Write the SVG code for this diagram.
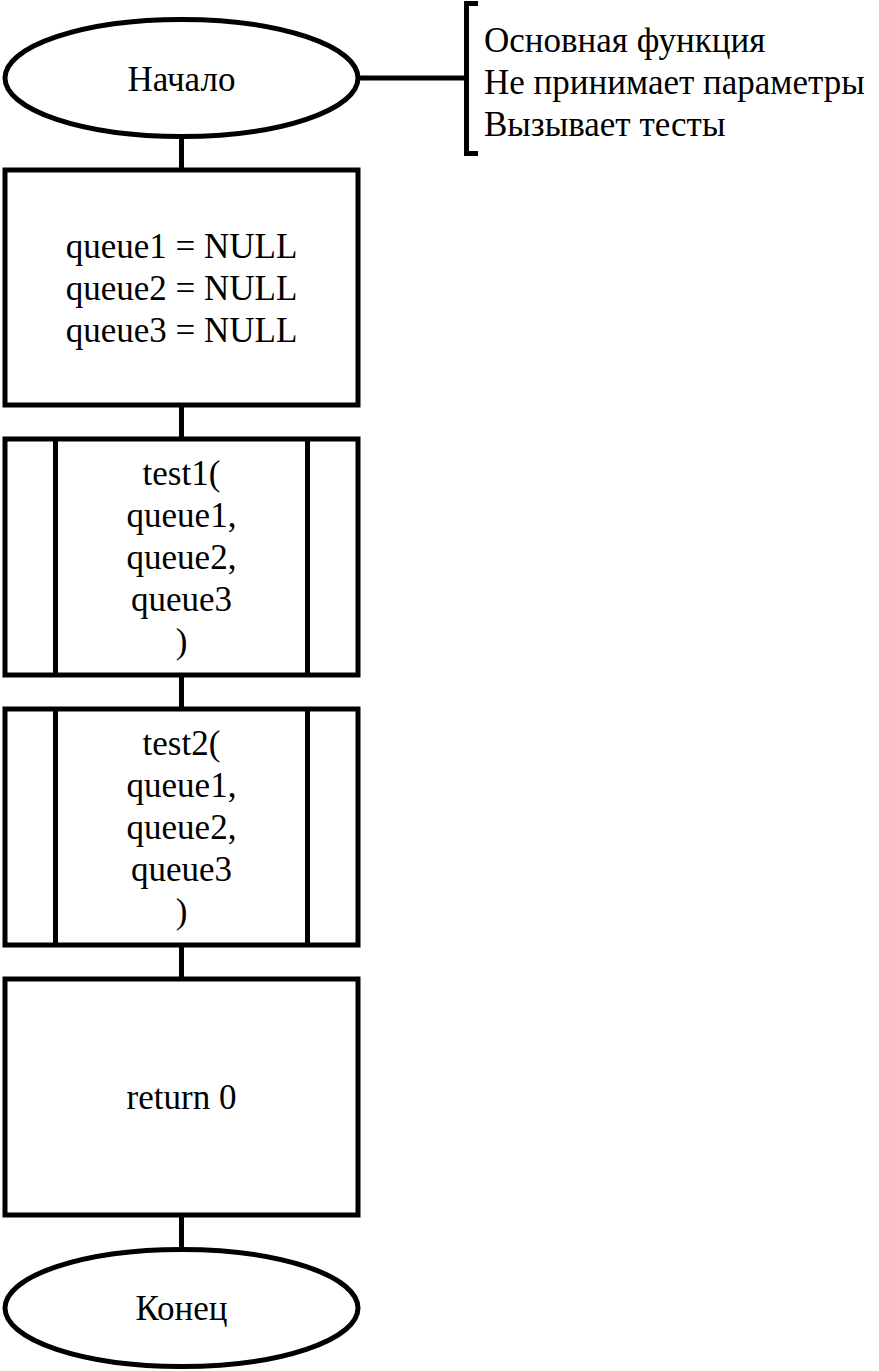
<svg xmlns="http://www.w3.org/2000/svg" width="879" height="1371" viewBox="0 0 879 1371" font-family="'Liberation Serif', 'Times New Roman', serif" font-size="35">
<style>
.s{fill:#fff;stroke:#000;stroke-width:5}
.l{fill:none;stroke:#000;stroke-width:5}
.c{text-anchor:middle}
</style>
<rect width="879" height="1371" fill="#fff"/>
<g id="connectors">
<line class="l" x1="181.5" y1="136" x2="181.5" y2="170"/>
<line class="l" x1="181.5" y1="405" x2="181.5" y2="439"/>
<line class="l" x1="181.5" y1="675" x2="181.5" y2="709"/>
<line class="l" x1="181.5" y1="945" x2="181.5" y2="979"/>
<line class="l" x1="181.5" y1="1215" x2="181.5" y2="1249"/>
<line class="l" x1="358" y1="78" x2="466" y2="78"/>
</g>
<g id="start">
<ellipse class="s" cx="181.5" cy="78" rx="176.5" ry="58.5"/>
<text class="c" x="181.5" y="91">Начало</text>
</g>
<g id="note">
<path class="l" d="M478,3.5 H466.5 V153.5 H478"/>
<text x="484" y="52">Основная функция</text>
<text x="484" y="94">Не принимает параметры</text>
<text x="484" y="136">Вызывает тесты</text>
</g>
<g id="init">
<rect class="s" x="5" y="170" width="353" height="235"/>
<text class="c" x="181.5" y="258">queue1 = NULL</text>
<text class="c" x="181.5" y="300">queue2 = NULL</text>
<text class="c" x="181.5" y="342">queue3 = NULL</text>
</g>
<g id="test1">
<rect class="s" x="5" y="439" width="353" height="236"/>
<line class="l" x1="55.5" y1="439" x2="55.5" y2="675"/>
<line class="l" x1="307.5" y1="439" x2="307.5" y2="675"/>
<text class="c" x="181.5" y="485">test1(</text>
<text class="c" x="181.5" y="527">queue1,</text>
<text class="c" x="181.5" y="569">queue2,</text>
<text class="c" x="181.5" y="611">queue3</text>
<text class="c" x="181.5" y="653">)</text>
</g>
<g id="test2">
<rect class="s" x="5" y="709" width="353" height="236"/>
<line class="l" x1="55.5" y1="709" x2="55.5" y2="945"/>
<line class="l" x1="307.5" y1="709" x2="307.5" y2="945"/>
<text class="c" x="181.5" y="755">test2(</text>
<text class="c" x="181.5" y="797">queue1,</text>
<text class="c" x="181.5" y="839">queue2,</text>
<text class="c" x="181.5" y="881">queue3</text>
<text class="c" x="181.5" y="923">)</text>
</g>
<g id="ret">
<rect class="s" x="5" y="979" width="353" height="236"/>
<text class="c" x="181.5" y="1109">return 0</text>
</g>
<g id="end">
<ellipse class="s" cx="181.5" cy="1308" rx="176.5" ry="58.5"/>
<text class="c" x="181.5" y="1320">Конец</text>
</g>
</svg>
